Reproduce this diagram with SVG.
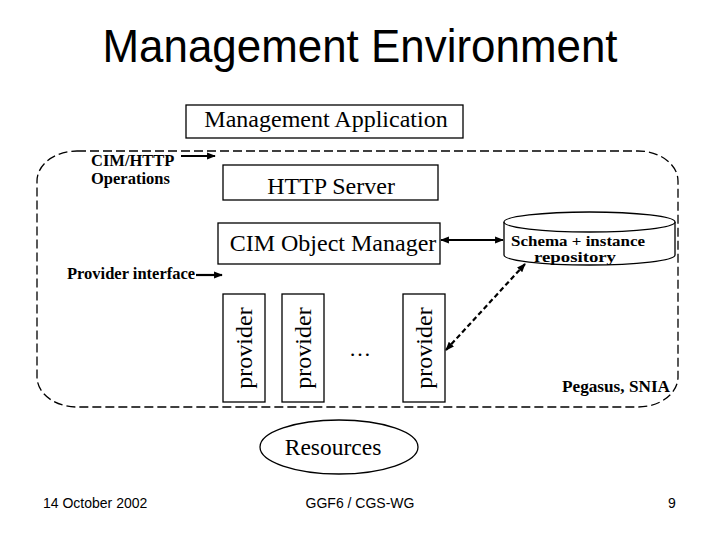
<svg xmlns="http://www.w3.org/2000/svg" width="720" height="540" viewBox="0 0 720 540">
<style>
.box{fill:#fff;stroke:#000;stroke-width:1.3}
.serif{font-family:"Liberation Serif","Times New Roman",serif;fill:#000}
.sans{font-family:"Liberation Sans",Arial,sans-serif;fill:#000}
.lbl{font-family:"Liberation Serif","Times New Roman",serif;font-weight:bold;font-size:16.5px;fill:#000}
.ln{stroke:#000;stroke-width:2.2;fill:none}
.dash{stroke:#000;stroke-width:1.3;fill:none;stroke-dasharray:9,4}
</style>
<defs>
<marker id="ah" viewBox="0 0 10 10" refX="9" refY="5" markerWidth="4" markerHeight="4" orient="auto-start-reverse" markerUnits="strokeWidth">
<path d="M0,1 L10,5 L0,9 z" fill="#000"/>
</marker>
</defs>
<rect width="720" height="540" fill="#fff"/>
<text class="sans" x="360" y="62" font-size="46" text-anchor="middle" textLength="515" lengthAdjust="spacingAndGlyphs">Management Environment</text>

<g id="environment">
<rect class="dash" x="37" y="151" width="641" height="256" rx="40" ry="30"/>
<text class="serif" x="562" y="392" font-size="16" font-weight="bold" textLength="108" lengthAdjust="spacingAndGlyphs">Pegasus, SNIA</text>
</g>

<g id="mgmt-app">
<rect class="box" x="186" y="105" width="277" height="33"/>
<text class="serif" x="326" y="127" font-size="24" text-anchor="middle">Management Application</text>
</g>

<g id="cim-http-label">
<text class="lbl" x="91" y="166">CIM/HTTP</text>
<text class="lbl" x="91" y="184">Operations</text>
</g>

<g id="http-server">
<rect class="box" x="223" y="165" width="215" height="35"/>
<text class="serif" x="331" y="194" font-size="24" text-anchor="middle">HTTP Server</text>
</g>

<g id="cimom">
<rect class="box" x="218" y="223" width="222" height="41"/>
<text class="serif" x="333" y="251" font-size="24" text-anchor="middle">CIM Object Manager</text>
</g>

<g id="repository">
<path class="box" d="M504,222 L504,255 A85.5,10 0 0 0 675,255 L675,222"/>
<ellipse class="box" cx="589.5" cy="222" rx="85.5" ry="10"/>
<text class="serif" x="578" y="246" font-size="14.5" font-weight="bold" text-anchor="middle" textLength="134" lengthAdjust="spacingAndGlyphs">Schema + instance</text>
<text class="serif" x="575" y="262" font-size="14.5" font-weight="bold" text-anchor="middle" textLength="82" lengthAdjust="spacingAndGlyphs">repository</text>
</g>

<g id="provider-interface-label">
<text class="lbl" x="67" y="279">Provider interface</text>
</g>

<g id="provider1">
<rect class="box" x="223" y="294" width="42" height="108"/>
<text class="serif" transform="translate(252,348) rotate(-90)" font-size="24" text-anchor="middle">provider</text>
</g>
<g id="provider2">
<rect class="box" x="282" y="294" width="42" height="108"/>
<text class="serif" transform="translate(311,348) rotate(-90)" font-size="24" text-anchor="middle">provider</text>
</g>
<g id="ellipsis">
<text class="serif" x="360" y="356" font-size="22" text-anchor="middle">…</text>
</g>
<g id="provider3">
<rect class="box" x="403" y="294" width="42" height="108"/>
<text class="serif" transform="translate(432,348) rotate(-90)" font-size="24" text-anchor="middle">provider</text>
</g>

<g id="resources">
<ellipse class="box" cx="339" cy="447" rx="79" ry="27"/>
<text class="serif" x="333" y="455" font-size="23.5" text-anchor="middle">Resources</text>
</g>

<g id="connectors">
<line class="ln" x1="181" y1="156" x2="215" y2="156" marker-end="url(#ah)"/>
<line class="ln" x1="196" y1="275" x2="222" y2="275" marker-end="url(#ah)"/>
<line class="ln" x1="441" y1="240" x2="503" y2="240" marker-start="url(#ah)" marker-end="url(#ah)"/>
<line class="ln" x1="525" y1="264" x2="446" y2="350" stroke-dasharray="5,3" marker-start="url(#ah)" marker-end="url(#ah)"/>
</g>

<g id="footer">
<text class="sans" x="43" y="508" font-size="14">14 October 2002</text>
<text class="sans" x="360" y="508" font-size="14" text-anchor="middle">GGF6 / CGS-WG</text>
<text class="sans" x="672" y="508" font-size="14" text-anchor="middle">9</text>
</g>
</svg>
